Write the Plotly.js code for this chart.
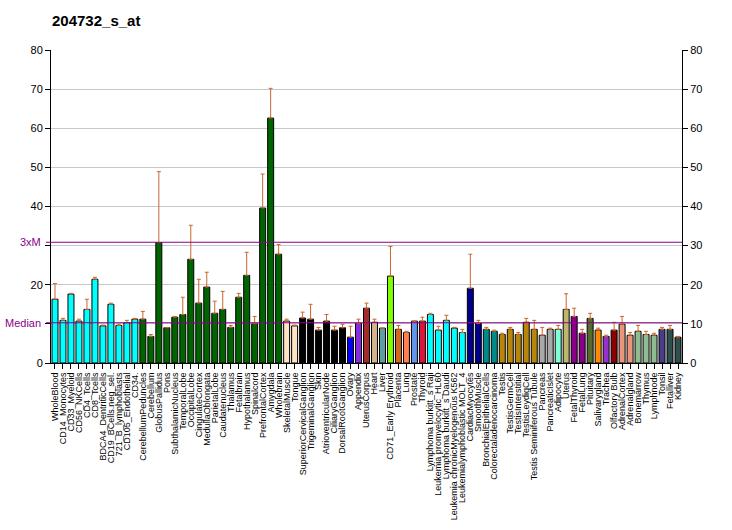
<!DOCTYPE html>
<html>
<head>
<meta charset="utf-8">
<script src="https://cdn.plot.ly/plotly-3.0.1.min.js"></script>
<style>html,body{margin:0;padding:0;background:#fff;}#chart{width:732px;height:530px;}</style>
</head>
<body>
<div id="chart"></div>
<script>
var categories = [
 "WholeBlood","CD14_Monocytes","CD33_Myeloid","CD56_NKCells","CD4_Tcells","CD8_Tcells",
 "BDCA4_DentriticCells","CD19_BCells.neg_sel.","721_B_lymphoblasts","CD105_Endothelial","CD34.",
 "CerebellumPeduncles","Cerebellum","GlobusPallidus","Pons","SubthalamicNucleus","TemporalLobe",
 "OccipitalLobe","CingulateCortex","MedullaOblongata","ParietalLobe","Caudatenucleus","Thalamus",
 "Fetalbrain","Hypothalamus","Spinalcord","PrefrontalCortex","Amygdala","Wholebrain",
 "SkeletalMuscle","Tongue","SuperiorCervicalGanglion","TrigeminalGanglion","Skin",
 "AtrioventricularNode","CiliaryGanglion","DorsalRootGanglion","Ovary","Appendix","UterusCorpus",
 "Heart","Liver","CD71_Early Erythroid","Placenta","Lung","Prostate","Thyroid",
 "Lymphoma burkitt_s Raji","Leukemia promyelocytic_HL60","Lymphoma burkitt_s Daudi",
 "Leukemia chronicMyelogenous K562","Leukemialymphoblastic MOLT_4","CardiacMyocytes","SmoothMuscle",
 "BronchialEpithelialCells","Colorectaladenocarcinoma","Testis","TestisGermCell","TestisInterstitial",
 "TestisLeydigCell","Testis Seminiferous Tubule","Pancreas","PancreaticIslet","Adipocyte","Uterus",
 "FetalThyroid","FetalLung","Pituitary","Salivarygland","Trachea","Olfactory Bulb","AdrenalCortex",
 "Adrenalgland","Bonemarrow","Thymus","Lymphnode","Tonsil","Fetalliver","Kidney"
];
var values = [
 16.3,10.9,17.6,10.7,13.7,21.4,9.5,15.0,9.6,10.3,11.2,
 11.2,6.8,30.8,9.0,11.7,12.4,26.5,15.3,19.4,12.7,13.7,9.1,16.8,22.4,10.0,39.6,62.6,27.8,
 10.7,9.5,11.5,11.2,8.4,10.7,8.4,9.0,6.6,10.1,14.0,10.4,8.9,22.2,8.6,7.8,10.7,10.7,
 12.4,8.4,10.9,8.9,7.8,19.1,10.1,8.6,8.1,7.3,8.6,7.3,10.4,8.6,7.1,8.6,8.6,13.7,
 11.9,7.6,11.4,8.4,6.8,8.4,9.9,7.1,8.1,7.3,7.1,8.6,8.6,6.6
];
var errorTop = [
 20.3,11.4,17.8,11.2,16.3,21.9,9.7,15.3,9.9,10.9,11.4,
 13.2,7.3,48.9,9.1,11.9,16.8,35.2,21.4,23.2,15.8,18.3,9.6,17.8,28.3,11.9,48.3,70.2,30.3,
 11.2,9.7,13.0,15.0,9.1,12.4,9.4,9.9,9.4,11.2,15.3,11.2,8.9,29.8,9.6,8.1,10.7,11.7,
 12.7,9.4,12.2,9.1,8.6,27.8,10.9,9.1,8.4,7.6,9.1,7.8,11.4,10.9,9.1,8.9,9.6,17.7,
 14.0,8.6,12.7,8.9,7.1,10.4,11.9,7.8,9.6,8.1,7.6,9.1,9.6,6.8
];
var barColors = [
 "#00FFFF","#00FFFF","#00FFFF","#00FFFF","#00FFFF","#00FFFF","#00FFFF","#00FFFF","#00FFFF","#00FFFF","#00FFFF",
 "#006400","#006400","#006400","#006400","#006400","#006400","#006400","#006400","#006400","#006400","#006400",
 "#006400","#006400","#006400","#006400","#006400","#006400","#006400",
 "#FFE4C4","#FFE4C4","#000000","#000000","#000000","#000000","#000000","#000000",
 "#0000FF","#8A2BE2","#A52A2A","#D2B48C","#5F9EA0","#7FFF00","#D2691E","#FF7F50","#6495ED","#DC143C",
 "#00FFFF","#00FFFF","#00FFFF","#00FFFF","#00FFFF","#00008B","#00008B","#008B8B","#008B8B",
 "#B8860B","#B8860B","#B8860B","#B8860B","#B8860B","#A9A9A9","#A9A9A9","#7FFFD4","#BDB76B",
 "#8B008B","#8B008B","#556B2F","#FF8C00","#9932CC","#8B0000","#E9967A","#E9967A",
 "#8FBC8F","#8FBC8F","#8FBC8F","#483D8B","#2F4F4F","#2F4F4F"
];
var medianValue = 10.29;
var threeXM = 30.86;
var yTicks = [0,10,20,30,40,50,60,70,80];
var yTickLabelsLeft = ["0","","20","","40","50","60","70","80"];
var yTickLabelsRight = ["0","10","20","30","40","50","60","70","80"];

var errPlus = errorTop.map(function(t,i){ return Math.max(0, t - values[i]); });
var errMinus = values.map(function(){ return 0; });

var traces = [
 {
  type: "bar", x: categories, y: values, width: 0.75,
  marker: {color: barColors, line: {color: "#000000", width: 1}},
  error_y: {type: "data", symmetric: false, array: errPlus, arrayminus: errMinus,
            color: "#C8662E", thickness: 1, width: 2},
  hoverinfo: "x+y", showlegend: false
 },
 {
  type: "scatter", mode: "markers", x: [categories[0]], y: [null], yaxis: "y2",
  showlegend: false, hoverinfo: "skip"
 }
];

var font = "Liberation Sans, Arial, sans-serif";
var layout = {
 width: 732, height: 530,
 margin: {l: 51, r: 50, t: 50, b: 167, pad: 0},
 paper_bgcolor: "#ffffff", plot_bgcolor: "#ffffff",
 showlegend: false,
 bargap: 0.25,
 title: {text: "<b>204732_s_at</b>", x: 52/732, xanchor: "left", y: 0.96, yanchor: "middle",
         font: {family: font, size: 15, color: "#000000"}},
 xaxis: {
  type: "category", range: [-0.5, categories.length - 0.5],
  tickmode: "array", tickvals: categories, ticktext: categories,
  tickangle: -90, tickfont: {family: font, size: 9, color: "#000"},
  ticks: "outside", ticklen: 5, tickcolor: "#000", tickwidth: 1,
  showline: true, linecolor: "#000", linewidth: 1, showgrid: false, fixedrange: true,
  automargin: false
 },
 yaxis: {
  range: [0, 80], tickmode: "array", tickvals: yTicks, ticktext: yTickLabelsLeft,
  tickfont: {family: font, size: 11, color: "#000"},
  ticks: "outside", ticklen: 5, tickcolor: "#000", tickwidth: 1,
  showline: true, linecolor: "#000", linewidth: 1,
  showgrid: true, gridcolor: "#C8C8C8", gridwidth: 1, zeroline: false, fixedrange: true,
  automargin: false
 },
 yaxis2: {
  overlaying: "y", side: "right", range: [0, 80], tickmode: "array", tickvals: yTicks, ticktext: yTickLabelsRight,
  tickfont: {family: font, size: 11, color: "#000"},
  ticks: "outside", ticklen: 5, tickcolor: "#000", tickwidth: 1,
  showline: true, linecolor: "#000", linewidth: 1, showgrid: false, zeroline: false, fixedrange: true,
  automargin: false
 },
 shapes: [
  {type: "line", xref: "paper", yref: "y", x0: -0.008, x1: 1, y0: threeXM, y1: threeXM,
   line: {color: "#8B008B", width: 1}},
  {type: "line", xref: "paper", yref: "y", x0: -0.008, x1: 1, y0: medianValue, y1: medianValue,
   line: {color: "#8B008B", width: 1}}
 ],
 annotations: [
  {xref: "paper", yref: "y", x: -0.012, y: threeXM, xanchor: "right", yanchor: "middle",
   text: "3xM", showarrow: false, font: {family: font, size: 11, color: "#8B008B"}},
  {xref: "paper", yref: "y", x: -0.012, y: medianValue, xanchor: "right", yanchor: "middle",
   text: "Median", showarrow: false, font: {family: font, size: 11, color: "#8B008B"}}
 ]
};

Plotly.newPlot("chart", traces, layout, {displayModeBar: false, staticPlot: true});
</script>
</body>
</html>
